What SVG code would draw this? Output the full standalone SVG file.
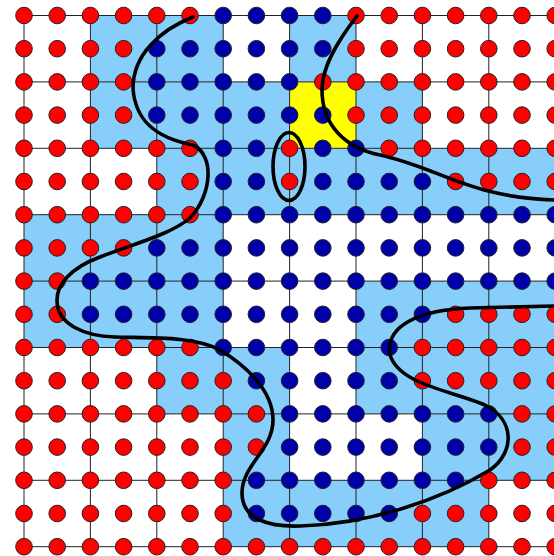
<svg xmlns="http://www.w3.org/2000/svg" width="554" height="556" viewBox="0 0 554 556">
<style>
.cell{fill:#87CEFA}
.yel{fill:#FFFF00}
.grid line{stroke:#222;stroke-width:1}
.r{fill:#FF0000;stroke:#222;stroke-width:1}
.b{fill:#0000A8;stroke:#222;stroke-width:1}
.curve{fill:none;stroke:#000;stroke-width:3.6;stroke-linecap:round;stroke-linejoin:round}
</style>
<rect width="554" height="556" fill="#fff"/>
<g id="cells">
<rect class="cell" x="90.4" y="15.5" width="132.8" height="66.4"/>
<rect class="cell" x="289.6" y="15.5" width="66.4" height="66.4"/>
<rect class="cell" x="90.4" y="81.9" width="199.2" height="66.4"/>
<rect class="yel" x="289.6" y="81.9" width="66.4" height="66.4"/>
<rect class="cell" x="356" y="81.9" width="66.4" height="66.4"/>
<rect class="cell" x="156.8" y="148.3" width="398.4" height="66.4"/>
<rect class="cell" x="24" y="214.7" width="199.2" height="66.4"/>
<rect class="cell" x="24" y="281.1" width="199.2" height="66.4"/>
<rect class="cell" x="356" y="281.1" width="199.2" height="66.4"/>
<rect class="cell" x="156.8" y="347.5" width="132.8" height="66.4"/>
<rect class="cell" x="356" y="347.5" width="199.2" height="66.4"/>
<rect class="cell" x="223.2" y="413.9" width="66.4" height="66.4"/>
<rect class="cell" x="422.4" y="413.9" width="132.8" height="66.4"/>
<rect class="cell" x="223.2" y="480.3" width="265.6" height="66.4"/>
</g>
<g id="grid" class="grid">
<line x1="24" y1="15.5" x2="24" y2="546.7"/>
<line x1="90.4" y1="15.5" x2="90.4" y2="546.7"/>
<line x1="156.8" y1="15.5" x2="156.8" y2="546.7"/>
<line x1="223.2" y1="15.5" x2="223.2" y2="546.7"/>
<line x1="289.6" y1="15.5" x2="289.6" y2="546.7"/>
<line x1="356" y1="15.5" x2="356" y2="546.7"/>
<line x1="422.4" y1="15.5" x2="422.4" y2="546.7"/>
<line x1="488.8" y1="15.5" x2="488.8" y2="546.7"/>
<line x1="24" y1="15.5" x2="555.2" y2="15.5"/>
<line x1="24" y1="81.9" x2="555.2" y2="81.9"/>
<line x1="24" y1="148.3" x2="555.2" y2="148.3"/>
<line x1="24" y1="214.7" x2="555.2" y2="214.7"/>
<line x1="24" y1="281.1" x2="555.2" y2="281.1"/>
<line x1="24" y1="347.5" x2="555.2" y2="347.5"/>
<line x1="24" y1="413.9" x2="555.2" y2="413.9"/>
<line x1="24" y1="480.3" x2="555.2" y2="480.3"/>
<line x1="24" y1="546.7" x2="555.2" y2="546.7"/>
</g>
<g id="dots">
<g transform="translate(0,15.5)"><circle class="r" cx="24" r="8.3"/><circle class="r" cx="57.2" r="8.3"/><circle class="r" cx="90.4" r="8.3"/><circle class="r" cx="123.6" r="8.3"/><circle class="r" cx="156.8" r="8.3"/><circle class="r" cx="190" r="8.3"/><circle class="b" cx="223.2" r="8.3"/><circle class="b" cx="256.4" r="8.3"/><circle class="b" cx="289.6" r="8.3"/><circle class="b" cx="322.8" r="8.3"/><circle class="r" cx="356" r="8.3"/><circle class="r" cx="389.2" r="8.3"/><circle class="r" cx="422.4" r="8.3"/><circle class="r" cx="455.6" r="8.3"/><circle class="r" cx="488.8" r="8.3"/><circle class="r" cx="522" r="8.3"/><circle class="r" cx="555.2" r="8.3"/></g>
<g transform="translate(0,48.7)"><circle class="r" cx="24" r="8.3"/><circle class="r" cx="57.2" r="8.3"/><circle class="r" cx="90.4" r="8.3"/><circle class="r" cx="123.6" r="8.3"/><circle class="b" cx="156.8" r="8.3"/><circle class="b" cx="190" r="8.3"/><circle class="b" cx="223.2" r="8.3"/><circle class="b" cx="256.4" r="8.3"/><circle class="b" cx="289.6" r="8.3"/><circle class="b" cx="322.8" r="8.3"/><circle class="r" cx="356" r="8.3"/><circle class="r" cx="389.2" r="8.3"/><circle class="r" cx="422.4" r="8.3"/><circle class="r" cx="455.6" r="8.3"/><circle class="r" cx="488.8" r="8.3"/><circle class="r" cx="522" r="8.3"/><circle class="r" cx="555.2" r="8.3"/></g>
<g transform="translate(0,81.9)"><circle class="r" cx="24" r="8.3"/><circle class="r" cx="57.2" r="8.3"/><circle class="r" cx="90.4" r="8.3"/><circle class="r" cx="123.6" r="8.3"/><circle class="b" cx="156.8" r="8.3"/><circle class="b" cx="190" r="8.3"/><circle class="b" cx="223.2" r="8.3"/><circle class="b" cx="256.4" r="8.3"/><circle class="b" cx="289.6" r="8.3"/><circle class="r" cx="322.8" r="8.3"/><circle class="r" cx="356" r="8.3"/><circle class="r" cx="389.2" r="8.3"/><circle class="r" cx="422.4" r="8.3"/><circle class="r" cx="455.6" r="8.3"/><circle class="r" cx="488.8" r="8.3"/><circle class="r" cx="522" r="8.3"/><circle class="r" cx="555.2" r="8.3"/></g>
<g transform="translate(0,115.1)"><circle class="r" cx="24" r="8.3"/><circle class="r" cx="57.2" r="8.3"/><circle class="r" cx="90.4" r="8.3"/><circle class="r" cx="123.6" r="8.3"/><circle class="b" cx="156.8" r="8.3"/><circle class="b" cx="190" r="8.3"/><circle class="b" cx="223.2" r="8.3"/><circle class="b" cx="256.4" r="8.3"/><circle class="b" cx="289.6" r="8.3"/><circle class="b" cx="322.8" r="8.3"/><circle class="r" cx="356" r="8.3"/><circle class="r" cx="389.2" r="8.3"/><circle class="r" cx="422.4" r="8.3"/><circle class="r" cx="455.6" r="8.3"/><circle class="r" cx="488.8" r="8.3"/><circle class="r" cx="522" r="8.3"/><circle class="r" cx="555.2" r="8.3"/></g>
<g transform="translate(0,148.3)"><circle class="r" cx="24" r="8.3"/><circle class="r" cx="57.2" r="8.3"/><circle class="r" cx="90.4" r="8.3"/><circle class="r" cx="123.6" r="8.3"/><circle class="r" cx="156.8" r="8.3"/><circle class="r" cx="190" r="8.3"/><circle class="b" cx="223.2" r="8.3"/><circle class="b" cx="256.4" r="8.3"/><circle class="r" cx="289.6" r="8.3"/><circle class="b" cx="322.8" r="8.3"/><circle class="b" cx="356" r="8.3"/><circle class="r" cx="389.2" r="8.3"/><circle class="r" cx="422.4" r="8.3"/><circle class="r" cx="455.6" r="8.3"/><circle class="r" cx="488.8" r="8.3"/><circle class="r" cx="522" r="8.3"/><circle class="r" cx="555.2" r="8.3"/></g>
<g transform="translate(0,181.5)"><circle class="r" cx="24" r="8.3"/><circle class="r" cx="57.2" r="8.3"/><circle class="r" cx="90.4" r="8.3"/><circle class="r" cx="123.6" r="8.3"/><circle class="r" cx="156.8" r="8.3"/><circle class="r" cx="190" r="8.3"/><circle class="b" cx="223.2" r="8.3"/><circle class="b" cx="256.4" r="8.3"/><circle class="r" cx="289.6" r="8.3"/><circle class="b" cx="322.8" r="8.3"/><circle class="b" cx="356" r="8.3"/><circle class="b" cx="389.2" r="8.3"/><circle class="b" cx="422.4" r="8.3"/><circle class="r" cx="455.6" r="8.3"/><circle class="r" cx="488.8" r="8.3"/><circle class="r" cx="522" r="8.3"/><circle class="r" cx="555.2" r="8.3"/></g>
<g transform="translate(0,214.7)"><circle class="r" cx="24" r="8.3"/><circle class="r" cx="57.2" r="8.3"/><circle class="r" cx="90.4" r="8.3"/><circle class="r" cx="123.6" r="8.3"/><circle class="r" cx="156.8" r="8.3"/><circle class="r" cx="190" r="8.3"/><circle class="b" cx="223.2" r="8.3"/><circle class="b" cx="256.4" r="8.3"/><circle class="b" cx="289.6" r="8.3"/><circle class="b" cx="322.8" r="8.3"/><circle class="b" cx="356" r="8.3"/><circle class="b" cx="389.2" r="8.3"/><circle class="b" cx="422.4" r="8.3"/><circle class="b" cx="455.6" r="8.3"/><circle class="b" cx="488.8" r="8.3"/><circle class="b" cx="522" r="8.3"/><circle class="b" cx="555.2" r="8.3"/></g>
<g transform="translate(0,247.9)"><circle class="r" cx="24" r="8.3"/><circle class="r" cx="57.2" r="8.3"/><circle class="r" cx="90.4" r="8.3"/><circle class="r" cx="123.6" r="8.3"/><circle class="b" cx="156.8" r="8.3"/><circle class="b" cx="190" r="8.3"/><circle class="b" cx="223.2" r="8.3"/><circle class="b" cx="256.4" r="8.3"/><circle class="b" cx="289.6" r="8.3"/><circle class="b" cx="322.8" r="8.3"/><circle class="b" cx="356" r="8.3"/><circle class="b" cx="389.2" r="8.3"/><circle class="b" cx="422.4" r="8.3"/><circle class="b" cx="455.6" r="8.3"/><circle class="b" cx="488.8" r="8.3"/><circle class="b" cx="522" r="8.3"/><circle class="b" cx="555.2" r="8.3"/></g>
<g transform="translate(0,281.1)"><circle class="r" cx="24" r="8.3"/><circle class="r" cx="57.2" r="8.3"/><circle class="b" cx="90.4" r="8.3"/><circle class="b" cx="123.6" r="8.3"/><circle class="b" cx="156.8" r="8.3"/><circle class="b" cx="190" r="8.3"/><circle class="b" cx="223.2" r="8.3"/><circle class="b" cx="256.4" r="8.3"/><circle class="b" cx="289.6" r="8.3"/><circle class="b" cx="322.8" r="8.3"/><circle class="b" cx="356" r="8.3"/><circle class="b" cx="389.2" r="8.3"/><circle class="b" cx="422.4" r="8.3"/><circle class="b" cx="455.6" r="8.3"/><circle class="b" cx="488.8" r="8.3"/><circle class="b" cx="522" r="8.3"/><circle class="b" cx="555.2" r="8.3"/></g>
<g transform="translate(0,314.3)"><circle class="r" cx="24" r="8.3"/><circle class="r" cx="57.2" r="8.3"/><circle class="b" cx="90.4" r="8.3"/><circle class="b" cx="123.6" r="8.3"/><circle class="b" cx="156.8" r="8.3"/><circle class="b" cx="190" r="8.3"/><circle class="b" cx="223.2" r="8.3"/><circle class="b" cx="256.4" r="8.3"/><circle class="b" cx="289.6" r="8.3"/><circle class="b" cx="322.8" r="8.3"/><circle class="b" cx="356" r="8.3"/><circle class="b" cx="389.2" r="8.3"/><circle class="b" cx="422.4" r="8.3"/><circle class="r" cx="455.6" r="8.3"/><circle class="r" cx="488.8" r="8.3"/><circle class="r" cx="522" r="8.3"/><circle class="r" cx="555.2" r="8.3"/></g>
<g transform="translate(0,347.5)"><circle class="r" cx="24" r="8.3"/><circle class="r" cx="57.2" r="8.3"/><circle class="r" cx="90.4" r="8.3"/><circle class="r" cx="123.6" r="8.3"/><circle class="r" cx="156.8" r="8.3"/><circle class="r" cx="190" r="8.3"/><circle class="b" cx="223.2" r="8.3"/><circle class="b" cx="256.4" r="8.3"/><circle class="b" cx="289.6" r="8.3"/><circle class="b" cx="322.8" r="8.3"/><circle class="b" cx="356" r="8.3"/><circle class="b" cx="389.2" r="8.3"/><circle class="r" cx="422.4" r="8.3"/><circle class="r" cx="455.6" r="8.3"/><circle class="r" cx="488.8" r="8.3"/><circle class="r" cx="522" r="8.3"/><circle class="r" cx="555.2" r="8.3"/></g>
<g transform="translate(0,380.7)"><circle class="r" cx="24" r="8.3"/><circle class="r" cx="57.2" r="8.3"/><circle class="r" cx="90.4" r="8.3"/><circle class="r" cx="123.6" r="8.3"/><circle class="r" cx="156.8" r="8.3"/><circle class="r" cx="190" r="8.3"/><circle class="r" cx="223.2" r="8.3"/><circle class="b" cx="256.4" r="8.3"/><circle class="b" cx="289.6" r="8.3"/><circle class="b" cx="322.8" r="8.3"/><circle class="b" cx="356" r="8.3"/><circle class="b" cx="389.2" r="8.3"/><circle class="r" cx="422.4" r="8.3"/><circle class="r" cx="455.6" r="8.3"/><circle class="r" cx="488.8" r="8.3"/><circle class="r" cx="522" r="8.3"/><circle class="r" cx="555.2" r="8.3"/></g>
<g transform="translate(0,413.9)"><circle class="r" cx="24" r="8.3"/><circle class="r" cx="57.2" r="8.3"/><circle class="r" cx="90.4" r="8.3"/><circle class="r" cx="123.6" r="8.3"/><circle class="r" cx="156.8" r="8.3"/><circle class="r" cx="190" r="8.3"/><circle class="r" cx="223.2" r="8.3"/><circle class="r" cx="256.4" r="8.3"/><circle class="b" cx="289.6" r="8.3"/><circle class="b" cx="322.8" r="8.3"/><circle class="b" cx="356" r="8.3"/><circle class="b" cx="389.2" r="8.3"/><circle class="b" cx="422.4" r="8.3"/><circle class="b" cx="455.6" r="8.3"/><circle class="b" cx="488.8" r="8.3"/><circle class="r" cx="522" r="8.3"/><circle class="r" cx="555.2" r="8.3"/></g>
<g transform="translate(0,447.1)"><circle class="r" cx="24" r="8.3"/><circle class="r" cx="57.2" r="8.3"/><circle class="r" cx="90.4" r="8.3"/><circle class="r" cx="123.6" r="8.3"/><circle class="r" cx="156.8" r="8.3"/><circle class="r" cx="190" r="8.3"/><circle class="r" cx="223.2" r="8.3"/><circle class="r" cx="256.4" r="8.3"/><circle class="b" cx="289.6" r="8.3"/><circle class="b" cx="322.8" r="8.3"/><circle class="b" cx="356" r="8.3"/><circle class="b" cx="389.2" r="8.3"/><circle class="b" cx="422.4" r="8.3"/><circle class="b" cx="455.6" r="8.3"/><circle class="b" cx="488.8" r="8.3"/><circle class="r" cx="522" r="8.3"/><circle class="r" cx="555.2" r="8.3"/></g>
<g transform="translate(0,480.3)"><circle class="r" cx="24" r="8.3"/><circle class="r" cx="57.2" r="8.3"/><circle class="r" cx="90.4" r="8.3"/><circle class="r" cx="123.6" r="8.3"/><circle class="r" cx="156.8" r="8.3"/><circle class="r" cx="190" r="8.3"/><circle class="r" cx="223.2" r="8.3"/><circle class="b" cx="256.4" r="8.3"/><circle class="b" cx="289.6" r="8.3"/><circle class="b" cx="322.8" r="8.3"/><circle class="b" cx="356" r="8.3"/><circle class="b" cx="389.2" r="8.3"/><circle class="b" cx="422.4" r="8.3"/><circle class="b" cx="455.6" r="8.3"/><circle class="r" cx="488.8" r="8.3"/><circle class="r" cx="522" r="8.3"/><circle class="r" cx="555.2" r="8.3"/></g>
<g transform="translate(0,513.5)"><circle class="r" cx="24" r="8.3"/><circle class="r" cx="57.2" r="8.3"/><circle class="r" cx="90.4" r="8.3"/><circle class="r" cx="123.6" r="8.3"/><circle class="r" cx="156.8" r="8.3"/><circle class="r" cx="190" r="8.3"/><circle class="r" cx="223.2" r="8.3"/><circle class="b" cx="256.4" r="8.3"/><circle class="b" cx="289.6" r="8.3"/><circle class="b" cx="322.8" r="8.3"/><circle class="b" cx="356" r="8.3"/><circle class="b" cx="389.2" r="8.3"/><circle class="r" cx="422.4" r="8.3"/><circle class="r" cx="455.6" r="8.3"/><circle class="r" cx="488.8" r="8.3"/><circle class="r" cx="522" r="8.3"/><circle class="r" cx="555.2" r="8.3"/></g>
<g transform="translate(0,546.7)"><circle class="r" cx="24" r="8.3"/><circle class="r" cx="57.2" r="8.3"/><circle class="r" cx="90.4" r="8.3"/><circle class="r" cx="123.6" r="8.3"/><circle class="r" cx="156.8" r="8.3"/><circle class="r" cx="190" r="8.3"/><circle class="r" cx="223.2" r="8.3"/><circle class="r" cx="256.4" r="8.3"/><circle class="r" cx="289.6" r="8.3"/><circle class="r" cx="322.8" r="8.3"/><circle class="r" cx="356" r="8.3"/><circle class="r" cx="389.2" r="8.3"/><circle class="r" cx="422.4" r="8.3"/><circle class="r" cx="455.6" r="8.3"/><circle class="r" cx="488.8" r="8.3"/><circle class="r" cx="522" r="8.3"/><circle class="r" cx="555.2" r="8.3"/></g>
</g>
<g id="curves">
<path id="curve1" class="curve" d="M193,17 C160,30 133,55 133,88 C135,120 155,138 193,145 C215,155 212,195 190,218 C170,235 130,245 100,257 C70,268 57,285 57,300 C57,325 85,336 115,337 C150,338 195,336 220,350 C245,365 273,390 273,420 C273,450 242,465 242,493 C242,520 270,527 300,526 C370,524 440,500 490,470 C515,452 515,420 485,405 C450,390 400,385 390,355 C385,325 420,310 470,308 L556,306"/>
<path id="curve2" class="curve" d="M357,16 C340,38 322,65 322,90 C322,125 345,148 380,155 C440,168 470,198 556,200"/>
<ellipse id="loop" class="curve" cx="289" cy="166.5" rx="16" ry="34"/>
</g>
</svg>
